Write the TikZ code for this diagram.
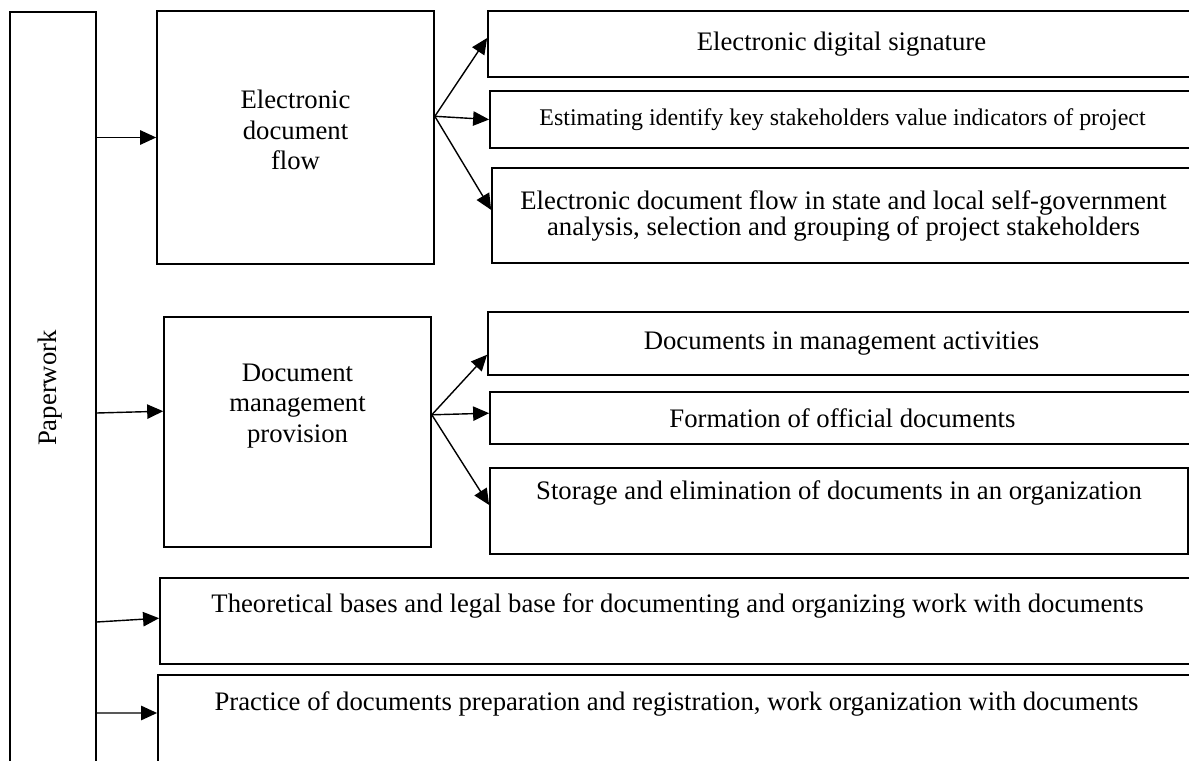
\documentclass[tikz,border=0pt]{standalone}
\usepackage{fontspec}
\setmainfont{Liberation Serif}
\usetikzlibrary{arrows.meta, positioning}

\begin{document}
\begin{tikzpicture}[
    x=0.025cm, y=-0.025cm,
    box/.style={rectangle, draw, line width=1.1pt, inner sep=0pt, align=center, font=\fontsize{19}{21.5}\selectfont},
    txt/.style={inner sep=0pt, align=center, font=\fontsize{19}{21.5}\selectfont},
    arrow/.style={-{Triangle[length=0.4cm, width=0.36cm]}, line width=1pt}
  ]
  \useasboundingbox (0,0) rectangle (1189,761);
  \clip (0,0) rectangle (1189,761);

  % left column and the two main groups
  \node (paperwork) [box, minimum width=2.15cm, minimum height=18.8cm] at (53,388) {};
  \node (paperworktxt) [txt, rotate=90] at (50,388) {Paperwork};

  \node (edf) [box, minimum width=6.925cm, minimum height=6.325cm] at (295.5,137.5) {};
  \node (edftxt) [txt] at (295.5,130) {Electronic\\document\\flow};

  \node (dmp) [box, minimum width=6.675cm, minimum height=5.75cm] at (297.5,432) {};
  \node (dmptxt) [txt] at (297.5,406) {Document\\management\\provision};

  % right boxes
  \node (sign) [box, minimum width=17.675cm, minimum height=1.65cm] at (841.5,44) {Electronic digital signature};
  \node (estim) [box, minimum width=17.625cm, minimum height=1.425cm, font=\fontsize{17}{19}\selectfont] at (842.5,119.5) {Estimating identify key stakeholders value indicators of project};
  \node (state) [box, minimum width=17.575cm, minimum height=2.375cm, font=\fontsize{19}{18.5}\selectfont] at (843.5,215.5) {Electronic document flow in state and local self-government\\analysis, selection and grouping of project stakeholders};

  \node (mgmt) [box, minimum width=17.675cm, minimum height=1.575cm] at (841.5,343.5) {Documents in management activities};
  \node (official) [box, minimum width=17.625cm, minimum height=1.3cm] at (842.5,418) {Formation of official documents};
  \node (storage) [box, minimum width=17.45cm, minimum height=2.15cm] at (839,511) {};
  \node (storagetxt) [txt] at (839,493) {Storage and elimination of documents in an organization};

  % bottom rows
  \node (theory) [box, minimum width=25.875cm, minimum height=2.15cm] at (677.5,621) {};
  \node (theorytxt) [txt] at (677.5,606) {Theoretical bases and legal base for documenting and organizing work with documents};
  \node (practice) [box, minimum width=25.925cm, minimum height=2.25cm] at (676.5,720) {};
  \node (practicetxt) [txt] at (676.5,704) {Practice of documents preparation and registration, work organization with documents};

  % connectors
  \draw [arrow] (paperwork.east |- edf.west) -- (edf.west);
  \draw [arrow] (paperwork.east |- 0,413) -- ([yshift=0.52cm]dmp.west);
  \draw [arrow] (paperwork.east |- 0,622) -- ([yshift=0.07cm]theory.west);
  \draw [arrow] (paperwork.east |- 0,713) -- ([yshift=0.175cm]practice.west);

  \coordinate (edfout) at ([yshift=0.53cm]edf.east);
  \draw [arrow] (edfout) -- ([yshift=0.15cm]sign.west);
  \draw [arrow] (edfout) -- (estim.west);
  \draw [arrow] (edfout) -- ([yshift=0.14cm]state.west);

  \coordinate (dmpout) at ([yshift=0.43cm]dmp.east);
  \draw [arrow] (dmpout) -- ([yshift=-0.28cm]mgmt.west);
  \draw [arrow] (dmpout) -- ([yshift=0.12cm]official.west);
  \draw [arrow] (dmpout) -- ([yshift=0.15cm]storage.west);
\end{tikzpicture}
\end{document}
